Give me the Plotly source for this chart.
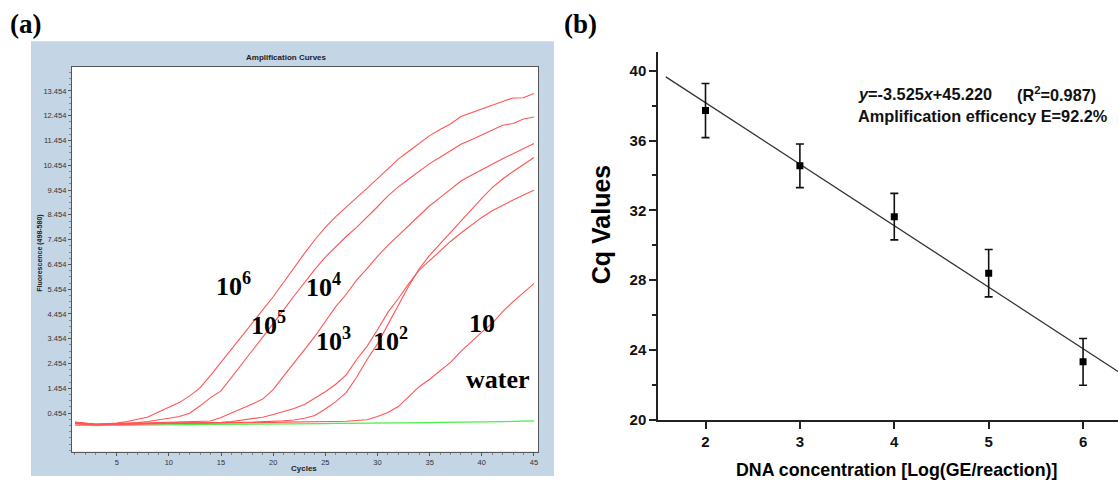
import plotly.graph_objects as go

# ---------------- data: panel (a) amplification curves ----------------
cycles = list(range(1, 46))

curve_1e6 = [0.10, 0.04, 0.00, 0.02, 0.05, 0.12, 0.20, 0.30, 0.50, 0.70,
             0.88, 1.15, 1.48, 1.98, 2.50, 3.05, 3.58, 4.10, 4.62, 5.15,
             5.75, 6.33, 6.90, 7.45, 7.95, 8.38, 8.78, 9.15, 9.52, 9.92,
             10.32, 10.70, 11.02, 11.35, 11.65, 11.90, 12.12, 12.42, 12.58, 12.72,
             12.88, 13.03, 13.17, 13.18, 13.35]
curve_1e5 = [0.05, 0.02, 0.00, 0.01, 0.03, 0.05, 0.07, 0.12, 0.20, 0.25,
             0.32, 0.45, 0.75, 1.08, 1.35, 1.88, 2.42, 2.98, 3.52, 4.05,
             4.62, 5.18, 5.72, 6.25, 6.75, 7.18, 7.58, 7.95, 8.35, 8.78,
             9.22, 9.58, 9.90, 10.22, 10.52, 10.78, 11.05, 11.30, 11.48, 11.67,
             11.88, 12.07, 12.14, 12.32, 12.40]
curve_1e4 = [0.08, 0.03, 0.00, 0.01, 0.02, 0.04, 0.05, 0.06, 0.06, 0.07,
             0.08, 0.09, 0.10, 0.14, 0.28, 0.45, 0.62, 0.82, 1.02, 1.40,
             1.95, 2.50, 3.02, 3.55, 4.15, 4.75, 5.25, 5.82, 6.28, 6.78,
             7.22, 7.62, 8.02, 8.45, 8.82, 9.15, 9.48, 9.82, 10.05, 10.28,
             10.50, 10.72, 10.92, 11.12, 11.33]
curve_1e3 = [0.06, 0.02, 0.00, 0.01, 0.02, 0.03, 0.04, 0.05, 0.05, 0.06,
             0.06, 0.06, 0.06, 0.06, 0.08, 0.12, 0.17, 0.22, 0.29, 0.40,
             0.52, 0.64, 0.80, 1.05, 1.32, 1.62, 2.00, 2.62, 3.15, 3.82,
             4.52, 5.08, 5.68, 6.22, 6.62, 7.00, 7.38, 7.72, 8.05, 8.35,
             8.62, 8.85, 9.05, 9.25, 9.45]
curve_1e2 = [0.04, 0.01, -0.01, 0.00, 0.01, 0.02, 0.03, 0.03, 0.04, 0.04,
             0.05, 0.05, 0.05, 0.06, 0.06, 0.07, 0.08, 0.09, 0.10, 0.12,
             0.15, 0.18, 0.25, 0.36, 0.62, 0.92, 1.28, 1.90, 2.62, 3.25,
             4.02, 4.80, 5.58, 6.28, 6.82, 7.28, 7.75, 8.20, 8.66, 9.12,
             9.55, 9.90, 10.20, 10.48, 10.77]
curve_1e1 = [0.02, -0.01, -0.02, -0.01, 0.00, 0.01, 0.02, 0.03, 0.03, 0.04,
             0.04, 0.05, 0.05, 0.05, 0.06, 0.06, 0.07, 0.07, 0.08, 0.08,
             0.09, 0.09, 0.10, 0.10, 0.11, 0.12, 0.13, 0.15, 0.19, 0.32,
             0.48, 0.72, 1.10, 1.52, 1.82, 2.15, 2.50, 2.95, 3.35, 3.72,
             4.08, 4.55, 4.95, 5.30, 5.68]
curve_water = [-0.04, -0.05, -0.05, -0.04, -0.04, -0.03, -0.03, -0.02, -0.02, -0.02,
               -0.01, -0.01, 0.00, 0.00, 0.00, 0.01, 0.01, 0.01, 0.02, 0.02,
               0.02, 0.03, 0.03, 0.03, 0.03, 0.04, 0.04, 0.04, 0.05, 0.05,
               0.05, 0.06, 0.06, 0.07, 0.07, 0.08, 0.08, 0.09, 0.09, 0.10,
               0.10, 0.11, 0.12, 0.13, 0.14]

fluor_tickvals = [0.454, 1.454, 2.454, 3.454, 4.454, 5.454, 6.454,
                  7.454, 8.454, 9.454, 10.454, 11.454, 12.454, 13.454]
fluor_ticktext = ["0.454", "1.454", "2.454", "3.454", "4.454", "5.454", "6.454",
                  "7.454", "8.454", "9.454", "10.454", "11.454", "12.454", "13.454"]
cycle_ticks = [5, 10, 15, 20, 25, 30, 35, 40, 45]

# ---------------- data: panel (b) standard curve ----------------
log_conc = [2, 3, 4, 5, 6]
cq_mean = [37.72, 34.55, 31.64, 28.40, 23.32]
cq_err = [1.55, 1.25, 1.33, 1.36, 1.34]
fit_slope = -3.525
fit_intercept = 45.220
fit_x = [1.58, 6.37]
cq_ticks = [20, 24, 28, 32, 36, 40]
conc_ticks = [2, 3, 4, 5, 6]

W, H = 1118, 491


def px(x):
    return x / W


def py(y):
    return 1 - y / H


RED = "rgb(255,85,85)"
GREEN = "rgb(70,240,70)"
SANS = "Liberation Sans, Arial, sans-serif"
SERIF = "Liberation Serif, Times New Roman, serif"

fig = go.Figure()

fig.add_trace(go.Scatter(x=cycles, y=curve_water, mode="lines",
                         line=dict(color=GREEN, width=1.2),
                         xaxis="x", yaxis="y", showlegend=False, name="water"))
for nm, vals in [("10^6", curve_1e6), ("10^5", curve_1e5), ("10^4", curve_1e4),
                 ("10^3", curve_1e3), ("10^2", curve_1e2), ("10", curve_1e1)]:
    fig.add_trace(go.Scatter(x=cycles, y=vals, mode="lines",
                             line=dict(color=RED, width=1.1),
                             xaxis="x", yaxis="y", showlegend=False, name=nm))

fit_y = [fit_slope * v + fit_intercept for v in fit_x]
fig.add_trace(go.Scatter(x=fit_x, y=fit_y, mode="lines",
                         line=dict(color="#333333", width=1.3),
                         xaxis="x2", yaxis="y2", showlegend=False, name="fit"))
fig.add_trace(go.Scatter(x=log_conc, y=cq_mean, mode="markers",
                         marker=dict(symbol="square", size=7, color="black"),
                         error_y=dict(type="data", array=cq_err, visible=True,
                                      color="#111111", thickness=1.6, width=4),
                         xaxis="x2", yaxis="y2", showlegend=False, name="Cq"))

shapes = [
    dict(type="rect", xref="paper", yref="paper", x0=px(31), x1=px(554),
         y0=py(484), y1=py(42), fillcolor="rgb(196,213,230)", line=dict(width=0),
         layer="below"),
    dict(type="rect", xref="paper", yref="paper", x0=px(72), x1=px(538),
         y0=py(459), y1=py(68), fillcolor="white", line=dict(width=0),
         layer="below"),
]

annotations = [
    dict(text="<b>(a)</b>", x=px(8), y=py(24), xanchor="left", yanchor="middle",
         font=dict(family=SERIF, size=27, color="black")),
    dict(text="<b>(b)</b>", x=px(562), y=py(24), xanchor="left", yanchor="middle",
         font=dict(family=SERIF, size=27, color="black")),
    dict(text="<b>Amplification Curves</b>", x=px(286), y=py(58), xanchor="center",
         yanchor="middle", font=dict(family=SANS, size=8, color="#222")),
    dict(text="<b>Cycles</b>", x=px(304), y=py(476), xanchor="center",
         yanchor="middle", font=dict(family=SANS, size=8, color="#222")),
    dict(text="<b>Fluorescence (498-580)</b>", x=px(40), y=py(258), xanchor="center",
         yanchor="middle", textangle=-90, font=dict(family=SANS, size=7, color="#222")),
    dict(text="<b>Cq Values</b>", x=px(601), y=py(228), xanchor="center",
         yanchor="middle", textangle=-90, font=dict(family=SANS, size=25, color="black")),
    dict(text="<b>DNA concentration [Log(GE/reaction)]</b>", x=px(896), y=py(478),
         xanchor="center", yanchor="middle",
         font=dict(family=SANS, size=17.8, color="black")),
    dict(text="<b><i>y</i>=-3.525<i>x</i>+45.220</b>", x=px(856), y=py(96),
         xanchor="left", yanchor="middle", font=dict(family=SANS, size=16.3, color="#111")),
    dict(text="<b>(R<sup>2</sup>=0.987)</b>", x=px(1015), y=py(96),
         xanchor="left", yanchor="middle", font=dict(family=SANS, size=16.3, color="#111")),
    dict(text="<b>Amplification efficency E=92.2%</b>", x=px(856), y=py(118),
         xanchor="left", yanchor="middle", font=dict(family=SANS, size=16.3, color="#111")),
]

# big serif concentration labels on panel (a)
for txt, left, cy in [("10<sup>6</sup>", 214, 289), ("10<sup>5</sup>", 249, 329),
                      ("10<sup>4</sup>", 304, 290), ("10<sup>3</sup>", 314, 345),
                      ("10<sup>2</sup>", 371, 345), ("10", 467, 329),
                      ("water", 464, 386)]:
    annotations.append(dict(text="<b>" + txt + "</b>", x=px(left), y=py(cy),
                            xanchor="left", yanchor="middle", showarrow=False,
                            font=dict(family=SERIF, size=26, color="black")))

for a in annotations:
    a.setdefault("xref", "paper")
    a.setdefault("yref", "paper")
    a["showarrow"] = False

fig.update_layout(
    width=W, height=H,
    margin=dict(l=0, r=0, t=0, b=0),
    paper_bgcolor="white",
    plot_bgcolor="rgba(0,0,0,0)",
    shapes=shapes,
    annotations=annotations,
    xaxis=dict(domain=[px(72), px(538)], range=[0.714, 45.39], anchor="y",
               tickmode="array", tickvals=cycle_ticks,
               ticks="outside", ticklen=3, tickcolor="#555", tickwidth=1,
               showline=True, linecolor="#555", linewidth=1.2, mirror=True,
               showgrid=False, zeroline=False,
               tickfont=dict(family=SANS, size=7.5, color="#333"),
               minor=dict(dtick=1, tick0=0, ticks="outside", ticklen=2,
                          tickcolor="#888", showgrid=False)),
    yaxis=dict(domain=[py(459), py(68)], range=[-1.094, 14.422], anchor="x",
               tickmode="array", tickvals=fluor_tickvals, ticktext=fluor_ticktext,
               ticks="outside", ticklen=3, tickcolor="#555", tickwidth=1,
               showline=True, linecolor="#555", linewidth=1.2, mirror=True,
               showgrid=False, zeroline=False,
               tickfont=dict(family=SANS, size=7.5, color="#333"),
               minor=dict(dtick=0.25, tick0=0.454, ticks="outside", ticklen=2,
                          tickcolor="#888", showgrid=False)),
    xaxis2=dict(domain=[px(658.3), 1.0], range=[1.5, 6.37], anchor="y2",
                tickmode="array", tickvals=conc_ticks,
                ticks="outside", ticklen=7, tickwidth=2, tickcolor="#222",
                showline=True, linecolor="#222", linewidth=2, mirror=False,
                showgrid=False, zeroline=False,
                tickfont=dict(family=SANS, size=15, color="#111", weight="bold")),
    yaxis2=dict(domain=[py(426.7), py(53.3)], range=[20, 41.05], anchor="x2",
                tickmode="array", tickvals=cq_ticks,
                ticks="outside", ticklen=7, tickwidth=2, tickcolor="#222",
                showline=True, linecolor="#222", linewidth=2, mirror=False,
                showgrid=False, zeroline=False,
                tickfont=dict(family=SANS, size=15, color="#111", weight="bold"),
                minor=dict(dtick=2, tick0=0, ticks="outside", ticklen=4,
                           tickwidth=1.5, tickcolor="#222", showgrid=False)),
)

fig.write_html("out.html",
               config={"displayModeBar": False},
               post_script="document.body.style.margin='0px';"
                           "document.body.style.overflow='hidden';")
